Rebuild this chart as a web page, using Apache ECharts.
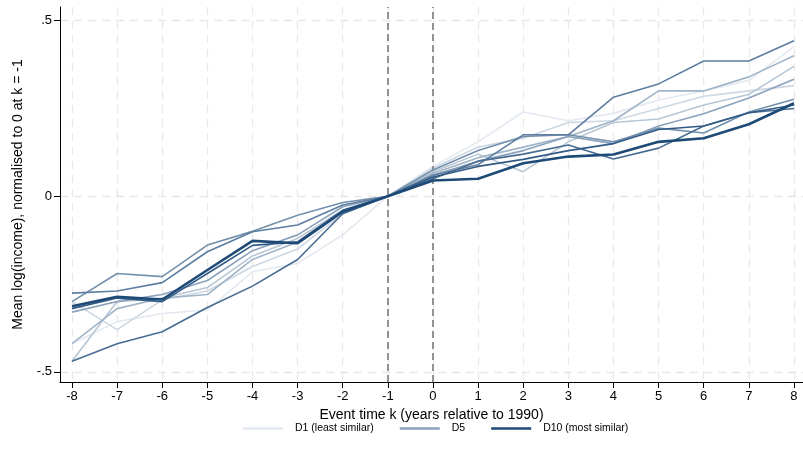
<!DOCTYPE html>
<html>
<head>
<meta charset="utf-8">
<script src="https://cdn.jsdelivr.net/npm/echarts@6/dist/echarts.min.js"></script>
<style>
  html, body { margin: 0; padding: 0; background: #fff; }
  #chart { width: 803px; height: 460px; }
</style>
</head>
<body>
<div id="chart"></div>
<script>
// event time k
const eventTime = [-8, -7, -6, -5, -4, -3, -2, -1, 0, 1, 2, 3, 4, 5, 6, 7, 8];
const yTicks = [-0.5, 0, 0.5];
const refLines = [-1, 0];

// mean log(income) per decile
const d1  = [-0.42, -0.357, -0.334, -0.324, -0.215, -0.191, -0.11, 0, 0.085, 0.155, 0.24, 0.215, 0.236, 0.274, 0.30, 0.33, 0.426];
const d2  = [-0.30, -0.38, -0.295, -0.27, -0.20, -0.15, -0.05, 0, 0.08, 0.14, 0.165, 0.21, 0.215, 0.25, 0.285, 0.30, 0.315];
const d3  = [-0.47, -0.30, -0.29, -0.26, -0.17, -0.12, -0.04, 0, 0.07, 0.12, 0.07, 0.155, 0.21, 0.22, 0.26, 0.29, 0.37];
const d4  = [-0.42, -0.32, -0.29, -0.28, -0.18, -0.13, -0.04, 0, 0.065, 0.11, 0.14, 0.17, 0.215, 0.30, 0.30, 0.34, 0.40];
const d5  = [-0.33, -0.30, -0.28, -0.24, -0.155, -0.11, -0.03, 0, 0.06, 0.10, 0.13, 0.17, 0.15, 0.20, 0.235, 0.28, 0.333];
const d6  = [-0.30, -0.22, -0.229, -0.139, -0.10, -0.054, -0.018, 0, 0.075, 0.13, 0.17, 0.175, 0.155, 0.194, 0.18, 0.24, 0.276];
const d7  = [-0.276, -0.27, -0.246, -0.158, -0.101, -0.082, -0.025, 0, 0.06, 0.09, 0.175, 0.175, 0.282, 0.32, 0.385, 0.385, 0.443];
const d8  = [-0.47, -0.42, -0.386, -0.317, -0.256, -0.18, -0.05, 0, 0.05, 0.10, 0.12, 0.146, 0.106, 0.137, 0.20, 0.238, 0.25];
const d9  = [-0.32, -0.29, -0.30, -0.22, -0.14, -0.13, -0.04, 0, 0.055, 0.085, 0.105, 0.13, 0.15, 0.19, 0.20, 0.238, 0.26];
const d10 = [-0.313, -0.286, -0.294, -0.21, -0.127, -0.134, -0.044, 0, 0.045, 0.05, 0.094, 0.113, 0.119, 0.155, 0.165, 0.205, 0.265];

const deciles = [d1, d2, d3, d4, d5, d6, d7, d8, d9, d10];
const names = ['D1 (least similar)', 'D2', 'D3', 'D4', 'D5', 'D6', 'D7', 'D8', 'D9', 'D10 (most similar)'];
const colors = ['#e3e9f0', '#cdd7e2', '#b7c6d5', '#a0b4c8', '#8aa2bb', '#7390ad', '#5d7ea0', '#476c92', '#325b85', '#1e4a77'];

const chart = echarts.init(document.getElementById('chart'));
const font = 'Liberation Sans, Arial, sans-serif';

const series = deciles.map((vals, i) => ({
  name: names[i],
  type: 'line',
  data: eventTime.map((k, j) => [k, vals[j]]),
  symbol: 'none',
  smooth: false,
  lineStyle: { color: colors[i], width: i === 9 ? 2.6 : 1.6 },
  itemStyle: { color: colors[i] },
  z: 3 + i,
  silent: true
}));

// reference lines at k = -1 and k = 0
series.push({
  type: 'line',
  data: [],
  silent: true,
  markLine: {
    symbol: ['none', 'none'],
    silent: true,
    label: { show: false },
    lineStyle: { color: '#7a7a7a', type: [7, 4], width: 1.6 },
    data: refLines.map(k => ({ xAxis: k }))
  },
  z: 2
});

const option = {
  animation: false,
  backgroundColor: '#fff',
  textStyle: { fontFamily: font },
  grid: { left: 60, right: 0, top: 7, bottom: 78 },
  xAxis: {
    type: 'value',
    min: -8.266,
    max: 8.2,
    name: 'Event time k (years relative to 1990)',
    nameLocation: 'middle',
    nameGap: 25,
    nameTextStyle: { fontSize: 14, color: '#000', fontFamily: font },
    axisLine: { show: true, onZero: false, lineStyle: { color: '#000', width: 1 } },
    axisTick: { show: true, length: 6, customValues: eventTime, lineStyle: { color: '#000' } },
    axisLabel: { customValues: eventTime, color: '#000', fontSize: 13, margin: 8, fontFamily: font },
    splitLine: { show: true, lineStyle: { color: '#e8e8e8', type: [8, 6], width: 1.3 } }
  },
  yAxis: {
    type: 'value',
    min: -0.529,
    max: 0.539,
    name: 'Mean log(income), normalised to 0 at k = -1',
    nameLocation: 'middle',
    nameGap: 35,
    nameTextStyle: { fontSize: 14, color: '#000', fontFamily: font },
    axisLine: { show: true, onZero: false, lineStyle: { color: '#000', width: 1 } },
    axisTick: { show: true, length: 6, customValues: yTicks, lineStyle: { color: '#000' } },
    axisLabel: {
      customValues: yTicks,
      color: '#000',
      fontSize: 13,
      margin: 8,
      fontFamily: font,
      formatter: v => v === 0 ? '0' : (v < 0 ? '-' : '') + String(Math.abs(v)).replace(/^0/, '')
    },
    splitLine: { show: true, lineStyle: { color: '#e8e8e8', type: [8, 6], width: 1.3 } }
  },
  legend: {
    bottom: 21,
    left: 238,
    data: ['D1 (least similar)', 'D5', 'D10 (most similar)'],
    icon: 'rect',
    itemWidth: 40,
    itemHeight: 2.5,
    itemGap: 26,
    textStyle: { fontSize: 10.5, color: '#000', fontFamily: font, padding: [0, 0, 0, 7] },
    selectedMode: false
  },
  series: series
};

chart.setOption(option);
</script>
</body>
</html>
